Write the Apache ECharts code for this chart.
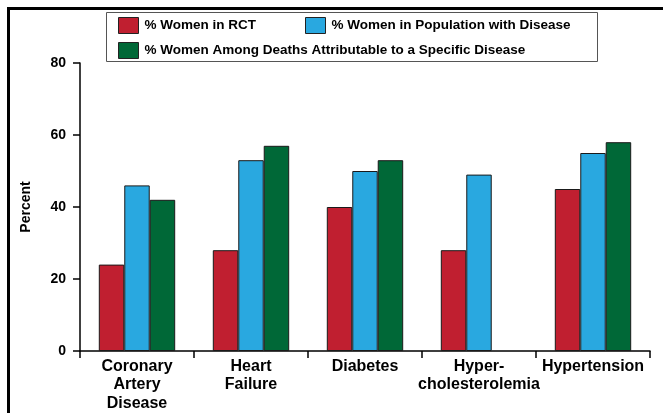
<!DOCTYPE html>
<html>
<head>
<meta charset="utf-8">
<script src="https://cdn.jsdelivr.net/npm/echarts@6/dist/echarts.min.js"></script>
<style>
  html, body { margin: 0; padding: 0; background: #fff; }
  #main { width: 663px; height: 413px; }
</style>
</head>
<body>
<div id="main"></div>
<script>
const categories = ['Coronary\nArtery\nDisease', 'Heart\nFailure', 'Diabetes', 'Hyper-\ncholesterolemia', 'Hypertension']
const seriesNames = [
  '% Women in RCT',
  '% Women in Population with Disease',
  '% Women Among Deaths Attributable to a Specific Disease'
]
const womenInRct = [24, 28, 40, 28, 45]
const womenInPopulation = [46, 53, 50, 49, 55]
const womenAmongDeaths = [42, 57, 53, null, 58]
const yTicks = [0, 20, 40, 60, 80]

const colors = ['#c01f30', '#29a8e0', '#006837']
const font = '"Liberation Sans", Arial, sans-serif'

var myChart = echarts.init(document.getElementById('main'))

// one legend per entry so each can sit where the original puts it
const legendBase = {
  orient: 'horizontal',
  padding: 0,
  itemWidth: 20,
  itemHeight: 16,
  icon: 'rect',
  itemStyle: { borderColor: '#222', borderWidth: 1 },
  textStyle: { fontFamily: font, fontWeight: 'bold', fontSize: 13.5, color: '#000', padding: [0, 0, 0, 1] }
}

var option = {
  animation: false,
  color: colors,
  graphic: [
    {
      type: 'rect',
      shape: { x: 8.5, y: 8.5, width: 700, height: 460 },
      style: { fill: 'none', stroke: '#000', lineWidth: 3 }
    },
    {
      type: 'rect',
      shape: { x: 106.5, y: 12.5, width: 491, height: 49 },
      style: { fill: '#fff', stroke: '#555', lineWidth: 1 },
      z: -1
    }
  ],
  legend: [
    Object.assign({}, legendBase, { data: [seriesNames[0]], left: 118, top: 17 }),
    Object.assign({}, legendBase, { data: [seriesNames[1]], left: 305, top: 17 }),
    Object.assign({}, legendBase, { data: [seriesNames[2]], left: 118, top: 42 })
  ],
  grid: { left: 80, right: 13, top: 63, bottom: 62, containLabel: false },
  xAxis: {
    type: 'category',
    data: categories,
    axisLine: { lineStyle: { color: '#000', width: 1.5 } },
    axisTick: { show: true, length: 7, lineStyle: { color: '#000', width: 1.5 } },
    axisLabel: {
      interval: 0,
      margin: 6,
      color: '#000',
      fontFamily: font,
      fontWeight: 'bold',
      fontSize: 16,
      lineHeight: 18.5
    }
  },
  yAxis: {
    type: 'value',
    min: 0,
    max: 80,
    interval: 20,
    name: 'Percent',
    nameLocation: 'middle',
    nameGap: 47,
    nameRotate: 90,
    nameTextStyle: { color: '#000', fontFamily: font, fontWeight: 'bold', fontSize: 14 },
    axisLine: { show: true, lineStyle: { color: '#000', width: 1.5 } },
    axisTick: { show: true, length: 7, lineStyle: { color: '#000', width: 1.5 } },
    splitLine: { show: false },
    axisLabel: {
      margin: 14,
      color: '#000',
      fontFamily: font,
      fontWeight: 'bold',
      fontSize: 14,
      formatter: v => (yTicks.indexOf(v) >= 0 ? String(v) : '')
    }
  },
  series: [
    { name: seriesNames[0], type: 'bar', data: womenInRct },
    { name: seriesNames[1], type: 'bar', data: womenInPopulation },
    { name: seriesNames[2], type: 'bar', data: womenAmongDeaths }
  ].map(s => Object.assign(s, {
    barGap: '0%',
    barCategoryGap: '33%',
    itemStyle: { borderColor: '#1a1a1a', borderWidth: 1 }
  }))
}

myChart.setOption(option)
window.addEventListener('resize', () => {
  myChart.resize()
})
</script>
</body>
</html>
